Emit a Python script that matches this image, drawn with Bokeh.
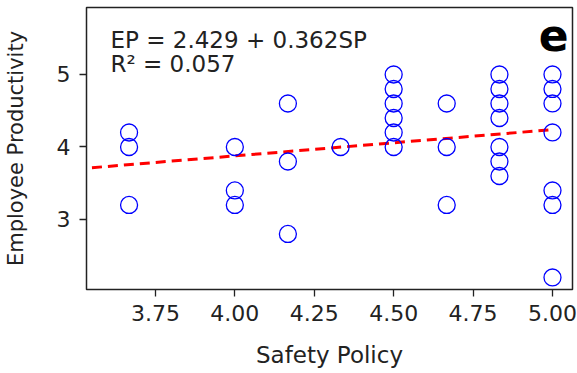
from bokeh.plotting import figure
from bokeh.models import Label, Range1d, FixedTicker
from bokeh.embed import file_html
from bokeh.resources import INLINE

# Data
sp = [3.667, 3.667, 3.667,
      4.0, 4.0, 4.0,
      4.167, 4.167, 4.167,
      4.333,
      4.5, 4.5, 4.5, 4.5, 4.5, 4.5,
      4.667, 4.667, 4.667,
      4.833, 4.833, 4.833, 4.833, 4.833, 4.833, 4.833,
      5.0, 5.0, 5.0, 5.0, 5.0, 5.0, 5.0]
ep = [4.2, 4.0, 3.2,
      4.0, 3.4, 3.2,
      4.6, 3.8, 2.8,
      4.0,
      5.0, 4.8, 4.6, 4.4, 4.2, 4.0,
      4.6, 4.0, 3.2,
      5.0, 4.8, 4.6, 4.4, 4.0, 3.8, 3.6,
      5.0, 4.8, 4.6, 4.2, 3.4, 3.2, 2.2]
intercept = 2.429
slope = 0.362
r2 = 0.057
fit_x = [3.5, 5.0]
fit_y = [intercept + slope * x for x in fit_x]
x_ticks = [3.75, 4.0, 4.25, 4.5, 4.75, 5.0]
y_ticks = [3, 4, 5]

FONT = "DejaVu Sans"

p = figure(width=577, height=373, output_backend="svg", toolbar_location=None,
           x_range=Range1d(3.533, 5.063), y_range=Range1d(2.034, 5.924),
           min_border_left=85, min_border_right=5, min_border_top=7, min_border_bottom=84)
p.background_fill_color = "white"
p.border_fill_color = "white"
p.grid.visible = False
p.outline_line_color = "#222222"
p.outline_line_width = 1.5

p.line(fit_x, fit_y, line_color="red", line_width=3, line_dash="10 6")
p.scatter(sp, ep, marker="circle", size=17, fill_color=None, line_color="blue", line_width=1.3)

for ax in (p.xaxis[0], p.yaxis[0]):
    ax.axis_line_color = None
    ax.major_tick_out = 7
    ax.major_tick_in = 0
    ax.major_tick_line_color = "#222222"
    ax.major_tick_line_width = 1.3
    ax.minor_tick_line_color = None
    ax.major_label_text_font = FONT
    ax.major_label_text_font_size = "22px"
    ax.major_label_text_color = "#222222"
    ax.axis_label_text_font = FONT
    ax.axis_label_text_font_style = "normal"
    ax.axis_label_text_color = "#222222"

p.xaxis.ticker = FixedTicker(ticks=x_ticks)
p.yaxis.ticker = FixedTicker(ticks=y_ticks)
p.xaxis.major_label_overrides = {t: f"{t:.2f}" for t in x_ticks}
p.xaxis.axis_label = "Safety Policy"
p.yaxis.axis_label = "Employee Productivity"
p.xaxis.axis_label_text_font_size = "23px"
p.yaxis.axis_label_text_font_size = "21px"
p.xaxis.major_label_standoff = 8
p.xaxis.axis_label_standoff = 18
p.yaxis.major_label_standoff = 9
p.yaxis.axis_label_standoff = 26

p.add_layout(Label(x=24, y=263, x_units="screen", y_units="screen",
                   text=f"EP = {intercept} + {slope}SP", text_font=FONT,
                   text_font_size="23px", text_color="#222222", text_baseline="top"))
p.add_layout(Label(x=24, y=239, x_units="screen", y_units="screen",
                   text=f"R\u00b2 = {r2:.3f}", text_font=FONT,
                   text_font_size="23px", text_color="#222222", text_baseline="top"))
p.add_layout(Label(x=482, y=272, x_units="screen", y_units="screen",
                   text="e", text_font=FONT, text_font_style="bold",
                   text_font_size="44px", text_color="black", text_baseline="top",
                   text_align="right"))

open("out.html", "w").write(file_html(p, INLINE))
